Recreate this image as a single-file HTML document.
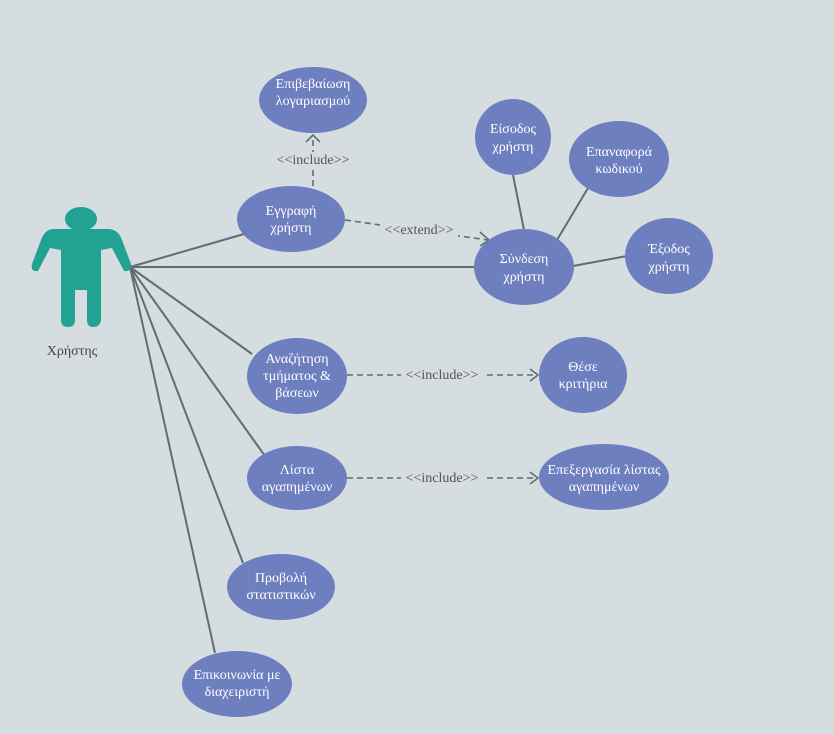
<!DOCTYPE html>
<html><head><meta charset="utf-8"><style>
html,body{margin:0;padding:0;background:#d5dde1;}
svg{display:block;}
.uc{fill:#6e7fc0;}
.t{fill:#fff;font-family:"Liberation Serif",serif;font-size:14px;text-anchor:middle;}
.l{font-family:"Liberation Serif",serif;font-size:14px;fill:#555;text-anchor:middle;}
.s{stroke:#5f6e72;stroke-width:2;fill:none;}
.d{stroke:#5f6e72;stroke-width:1.6;fill:none;stroke-dasharray:6 4;}
</style></head><body>
<svg width="834" height="734" viewBox="0 0 834 734">
<rect width="834" height="734" fill="#d5dde1"/>
<g>
<line class="s" x1="130" y1="267" x2="244" y2="234"/>
<line class="s" x1="130" y1="267" x2="474" y2="267"/>
<line class="s" x1="130" y1="267" x2="252" y2="354"/>
<line class="s" x1="130" y1="267" x2="265" y2="456"/>
<line class="s" x1="130" y1="267" x2="243" y2="563" stroke="#6a6a6a"/>
<line class="s" x1="130" y1="267" x2="215" y2="653" stroke="#6a6a6a"/>
<line class="s" x1="513" y1="175" x2="524" y2="230"/>
<line class="s" x1="588" y1="188" x2="557" y2="240"/>
<line class="s" x1="627" y1="256" x2="573" y2="266"/>
</g>
<g>
<line class="d" x1="313" y1="186" x2="313" y2="137"/>
<polyline points="306,142 313,135 320,142" fill="none" stroke="#5f6e72" stroke-width="1.6"/>
<rect x="272" y="152" width="82" height="16" fill="#d5dde1"/>
<text class="l" x="313" y="164">&lt;&lt;include&gt;&gt;</text>
<line class="d" x1="345" y1="220" x2="488" y2="240"/>
<polyline points="480,232 489,240 480,246" fill="none" stroke="#5f6e72" stroke-width="1.6"/>
<rect x="380" y="222" width="78" height="16" fill="#d5dde1"/>
<text class="l" x="419" y="234">&lt;&lt;extend&gt;&gt;</text>
<line class="d" x1="347" y1="375" x2="538" y2="375"/>
<polyline points="530,369 538,375 530,381" fill="none" stroke="#5f6e72" stroke-width="1.6"/>
<rect x="401" y="367" width="82" height="16" fill="#d5dde1"/>
<text class="l" x="442" y="379">&lt;&lt;include&gt;&gt;</text>
<line class="d" x1="347" y1="478" x2="538" y2="478"/>
<polyline points="530,472 538,478 530,484" fill="none" stroke="#5f6e72" stroke-width="1.6"/>
<rect x="401" y="470" width="82" height="16" fill="#d5dde1"/>
<text class="l" x="442" y="482">&lt;&lt;include&gt;&gt;</text>
</g>
<g>
<ellipse cx="81" cy="219" rx="16" ry="12" fill="#22a293"/>
<path d="M54,229 L108,229 Q118,229 122,240 L131,264 Q132,272 124,271 L112,248 L101,250 L101,320 Q100,327 93,327 Q87,327 87,320 L87,290 L75,290 L75,320 Q75,327 68,327 Q61,327 61,320 L61,250 L50,248 L38,271 Q30,272 32,264 L41,240 Q45,229 54,229 Z" fill="#22a293"/>
<text x="72" y="355" font-family="Liberation Serif,serif" font-size="14" fill="#444" text-anchor="middle">Χρήστης</text>
</g>
<g><ellipse class="uc" cx="313" cy="100" rx="54" ry="33"/><text class="t" x="313" y="88">Επιβεβαίωση</text><text class="t" x="313" y="105">λογαριασμού</text></g>
<g><ellipse class="uc" cx="291" cy="219" rx="54" ry="33"/><text class="t" x="291" y="215">Εγγραφή</text><text class="t" x="291" y="232">χρήστη</text></g>
<g><ellipse class="uc" cx="513" cy="137" rx="38" ry="38"/><text class="t" x="513" y="133">Είσοδος</text><text class="t" x="513" y="151">χρήστη</text></g>
<g><ellipse class="uc" cx="619" cy="159" rx="50" ry="38"/><text class="t" x="619" y="156">Επαναφορά</text><text class="t" x="619" y="173">κωδικού</text></g>
<g><ellipse class="uc" cx="524" cy="267" rx="50" ry="38"/><text class="t" x="524" y="263">Σύνδεση</text><text class="t" x="524" y="281">χρήστη</text></g>
<g><ellipse class="uc" cx="669" cy="256" rx="44" ry="38"/><text class="t" x="669" y="253">Έξοδος</text><text class="t" x="669" y="271">χρήστη</text></g>
<g><ellipse class="uc" cx="297" cy="376" rx="50" ry="38"/><text class="t" x="297" y="363">Αναζήτηση</text><text class="t" x="297" y="380">τμήματος &amp;</text><text class="t" x="297" y="397">βάσεων</text></g>
<g><ellipse class="uc" cx="583" cy="375" rx="44" ry="38"/><text class="t" x="583" y="371">Θέσε</text><text class="t" x="583" y="388">κριτήρια</text></g>
<g><ellipse class="uc" cx="297" cy="478" rx="50" ry="32"/><text class="t" x="297" y="474">Λίστα</text><text class="t" x="297" y="491">αγαπημένων</text></g>
<g><ellipse class="uc" cx="604" cy="477" rx="65" ry="33"/><text class="t" x="604" y="474">Επεξεργασία λίστας</text><text class="t" x="604" y="491">αγαπημένων</text></g>
<g><ellipse class="uc" cx="281" cy="587" rx="54" ry="33"/><text class="t" x="281" y="582">Προβολή</text><text class="t" x="281" y="599">στατιστικών</text></g>
<g><ellipse class="uc" cx="237" cy="684" rx="55" ry="33"/><text class="t" x="237" y="679">Επικοινωνία με</text><text class="t" x="237" y="696">διαχειριστή</text></g>
</svg>
</body></html>
